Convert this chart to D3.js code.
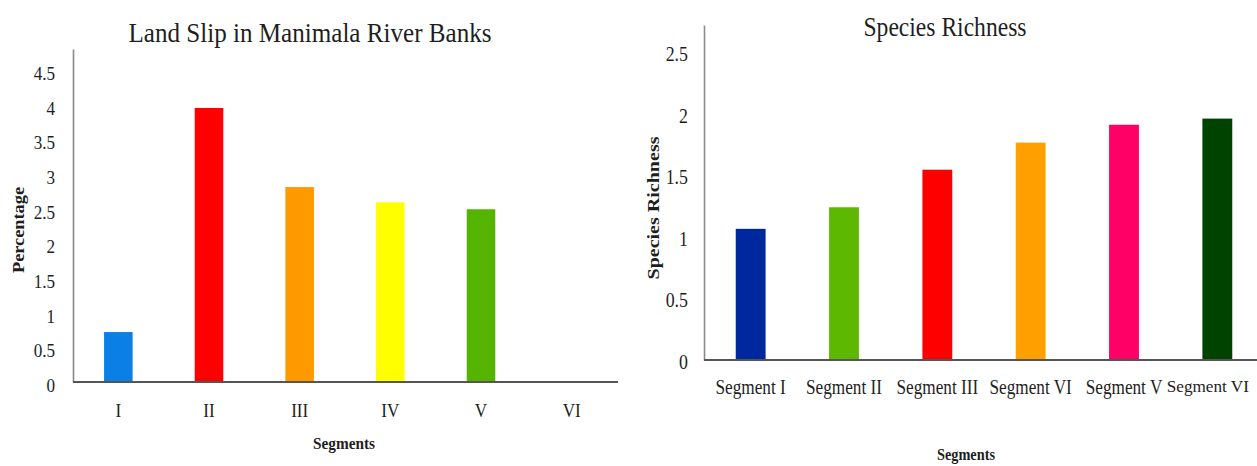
<!DOCTYPE html>
<html><head><meta charset="utf-8">
<script src="https://cdn.jsdelivr.net/npm/d3@7"></script>
<style>
html,body{margin:0;padding:0;background:#fff;}
svg{display:block;}
text{font-family:"Liberation Serif","Times New Roman",serif;fill:#1e1e1e;}
</style></head>
<body>
<svg id="chart" width="1257" height="466"></svg>
<script>
// ---- Data: Land slip chart ----
const landTitle = "Land Slip in Manimala River Banks";
const landCategories = ["I", "II", "III", "IV", "V", "VI"];
const landValues = [0.72, 3.95, 2.81, 2.59, 2.49, 0];
const landColors = ["#0a80e6", "#ff0000", "#ff9900", "#ffff00", "#55b400", "#888888"];
const landTicks = [0, 0.5, 1, 1.5, 2, 2.5, 3, 3.5, 4, 4.5];
const landYLabel = "Percentage";
const landXLabel = "Segments";

// ---- Data: Species richness chart ----
const richTitle = "Species Richness";
const richCategories = ["Segment I", "Segment II", "Segment III", "Segment VI", "Segment V", "Segment VI"];
const richValues = [1.065, 1.24, 1.545, 1.765, 1.91, 1.96];
const richColors = ["#00289e", "#5cb800", "#ff0000", "#ffa000", "#ff0066", "#004200"];
const richTicks = [0, 0.5, 1, 1.5, 2, 2.5];
const richYLabel = "Species Richness";
const richXLabel = "Segments";

const svg = d3.select("#chart");
const W = 1257;

function condense(sel, f) {
  sel.each(function () {
    const w = this.getComputedTextLength();
    d3.select(this).attr("textLength", w * f).attr("lengthAdjust", "spacingAndGlyphs");
  });
}
function fitWidth(sel, w) {
  sel.attr("textLength", w).attr("lengthAdjust", "spacingAndGlyphs");
}

function drawChart(o) {
  const g = svg.append("g");
  const idx = o.categories.map((c, i) => i);
  const x = d3.scaleBand().domain(idx).range([o.x0, o.x1])
    .paddingInner(o.pad).paddingOuter(o.pad / 2);
  const y = d3.scaleLinear().domain([0, o.yMax]).range([o.y0, o.yTop]);

  // bars
  g.selectAll("rect.bar").data(idx.map(i => ({ i, v: o.values[i], col: o.colors[i] })))
    .enter().append("rect").attr("class", "bar")
    .attr("x", d => x(d.i)).attr("width", x.bandwidth())
    .attr("y", d => y(d.v)).attr("height", d => y(0) - y(d.v))
    .attr("fill", d => d.col);

  // y axis
  const ya = g.append("g").attr("transform", `translate(${o.x0},0)`)
    .call(d3.axisLeft(y).tickValues(o.ticks).tickSize(0).tickPadding(o.tickPad)
      .tickFormat(d3.format("~g")));
  ya.attr("font-family", null);
  ya.select(".domain").attr("stroke", "#8a8a8a").attr("stroke-width", 1.6);
  ya.selectAll("text").attr("font-size", o.tickFont).attr("fill", "#1e1e1e").attr("dy", o.tickDy);
  condense(ya.selectAll("text"), o.tickSqueeze);

  // x axis
  const xa = g.append("g").attr("transform", `translate(0,${o.y0})`)
    .call(d3.axisBottom(x).tickSize(0).tickPadding(o.xPad).tickFormat(i => o.categories[i]));
  xa.attr("font-family", null);
  xa.select(".domain").attr("stroke", "#555").attr("stroke-width", 2)
    .attr("d", `M${o.x0},0H${o.xLineEnd}`);
  xa.selectAll("text").attr("font-size", o.xFont).attr("fill", "#1e1e1e");
  xa.selectAll(".tick").each(function (d) {
    const t = d3.select(this).select("text");
    const cx = x(d) + x.bandwidth() / 2;
    const w = t.node().getComputedTextLength() * o.xSqueeze;
    if (cx + w / 2 > W - 10) {
      // keep the label inside the picture: smaller font, right-aligned
      t.attr("font-size", o.xFont * o.xSqueeze).attr("text-anchor", "end").attr("x", W - 8 - cx);
    } else {
      t.attr("textLength", w).attr("lengthAdjust", "spacingAndGlyphs");
    }
  });

  // title
  fitWidth(g.append("text").attr("x", o.titleX).attr("y", o.titleY)
    .attr("text-anchor", "middle").attr("font-size", o.titleFont).text(o.title), o.titleW);

  // axis labels
  fitWidth(g.append("text").attr("x", o.xLabX).attr("y", o.xLabY)
    .attr("text-anchor", "middle").attr("font-size", 16).attr("font-weight", "bold")
    .text(o.xLabel), o.xLabW);
  fitWidth(g.append("text").attr("transform", `translate(${o.yLabX},${o.yLabY}) rotate(-90)`)
    .attr("text-anchor", "middle").attr("font-size", 16).attr("font-weight", "bold")
    .text(o.yLabel), o.yLabW);
}

drawChart({
  categories: landCategories, values: landValues, colors: landColors, ticks: landTicks,
  title: landTitle, xLabel: landXLabel, yLabel: landYLabel,
  x0: 73, x1: 617, xLineEnd: 618, pad: 0.685, y0: 382, yTop: 49, yMax: 4.8,
  tickPad: 18, tickFont: 19, tickDy: "0.5em", tickSqueeze: 0.9,
  xPad: 22, xFont: 19, xSqueeze: 0.9,
  titleX: 310, titleY: 42, titleFont: 28, titleW: 363,
  xLabX: 344, xLabY: 449, xLabW: 62,
  yLabX: 24, yLabY: 230, yLabW: 86
});

drawChart({
  categories: richCategories, values: richValues, colors: richColors, ticks: richTicks,
  title: richTitle, xLabel: richXLabel, yLabel: richYLabel,
  x0: 704, x1: 1264, xLineEnd: 1257, pad: 0.68, y0: 360, yTop: 25, yMax: 2.72,
  tickPad: 16, tickFont: 21, tickDy: "0.4em", tickSqueeze: 0.85,
  xPad: 20, xFont: 20, xSqueeze: 0.86,
  titleX: 945, titleY: 36, titleFont: 28, titleW: 163,
  xLabX: 966, xLabY: 460, xLabW: 58,
  yLabX: 659, yLabY: 208, yLabW: 143
});
</script>
</body></html>
